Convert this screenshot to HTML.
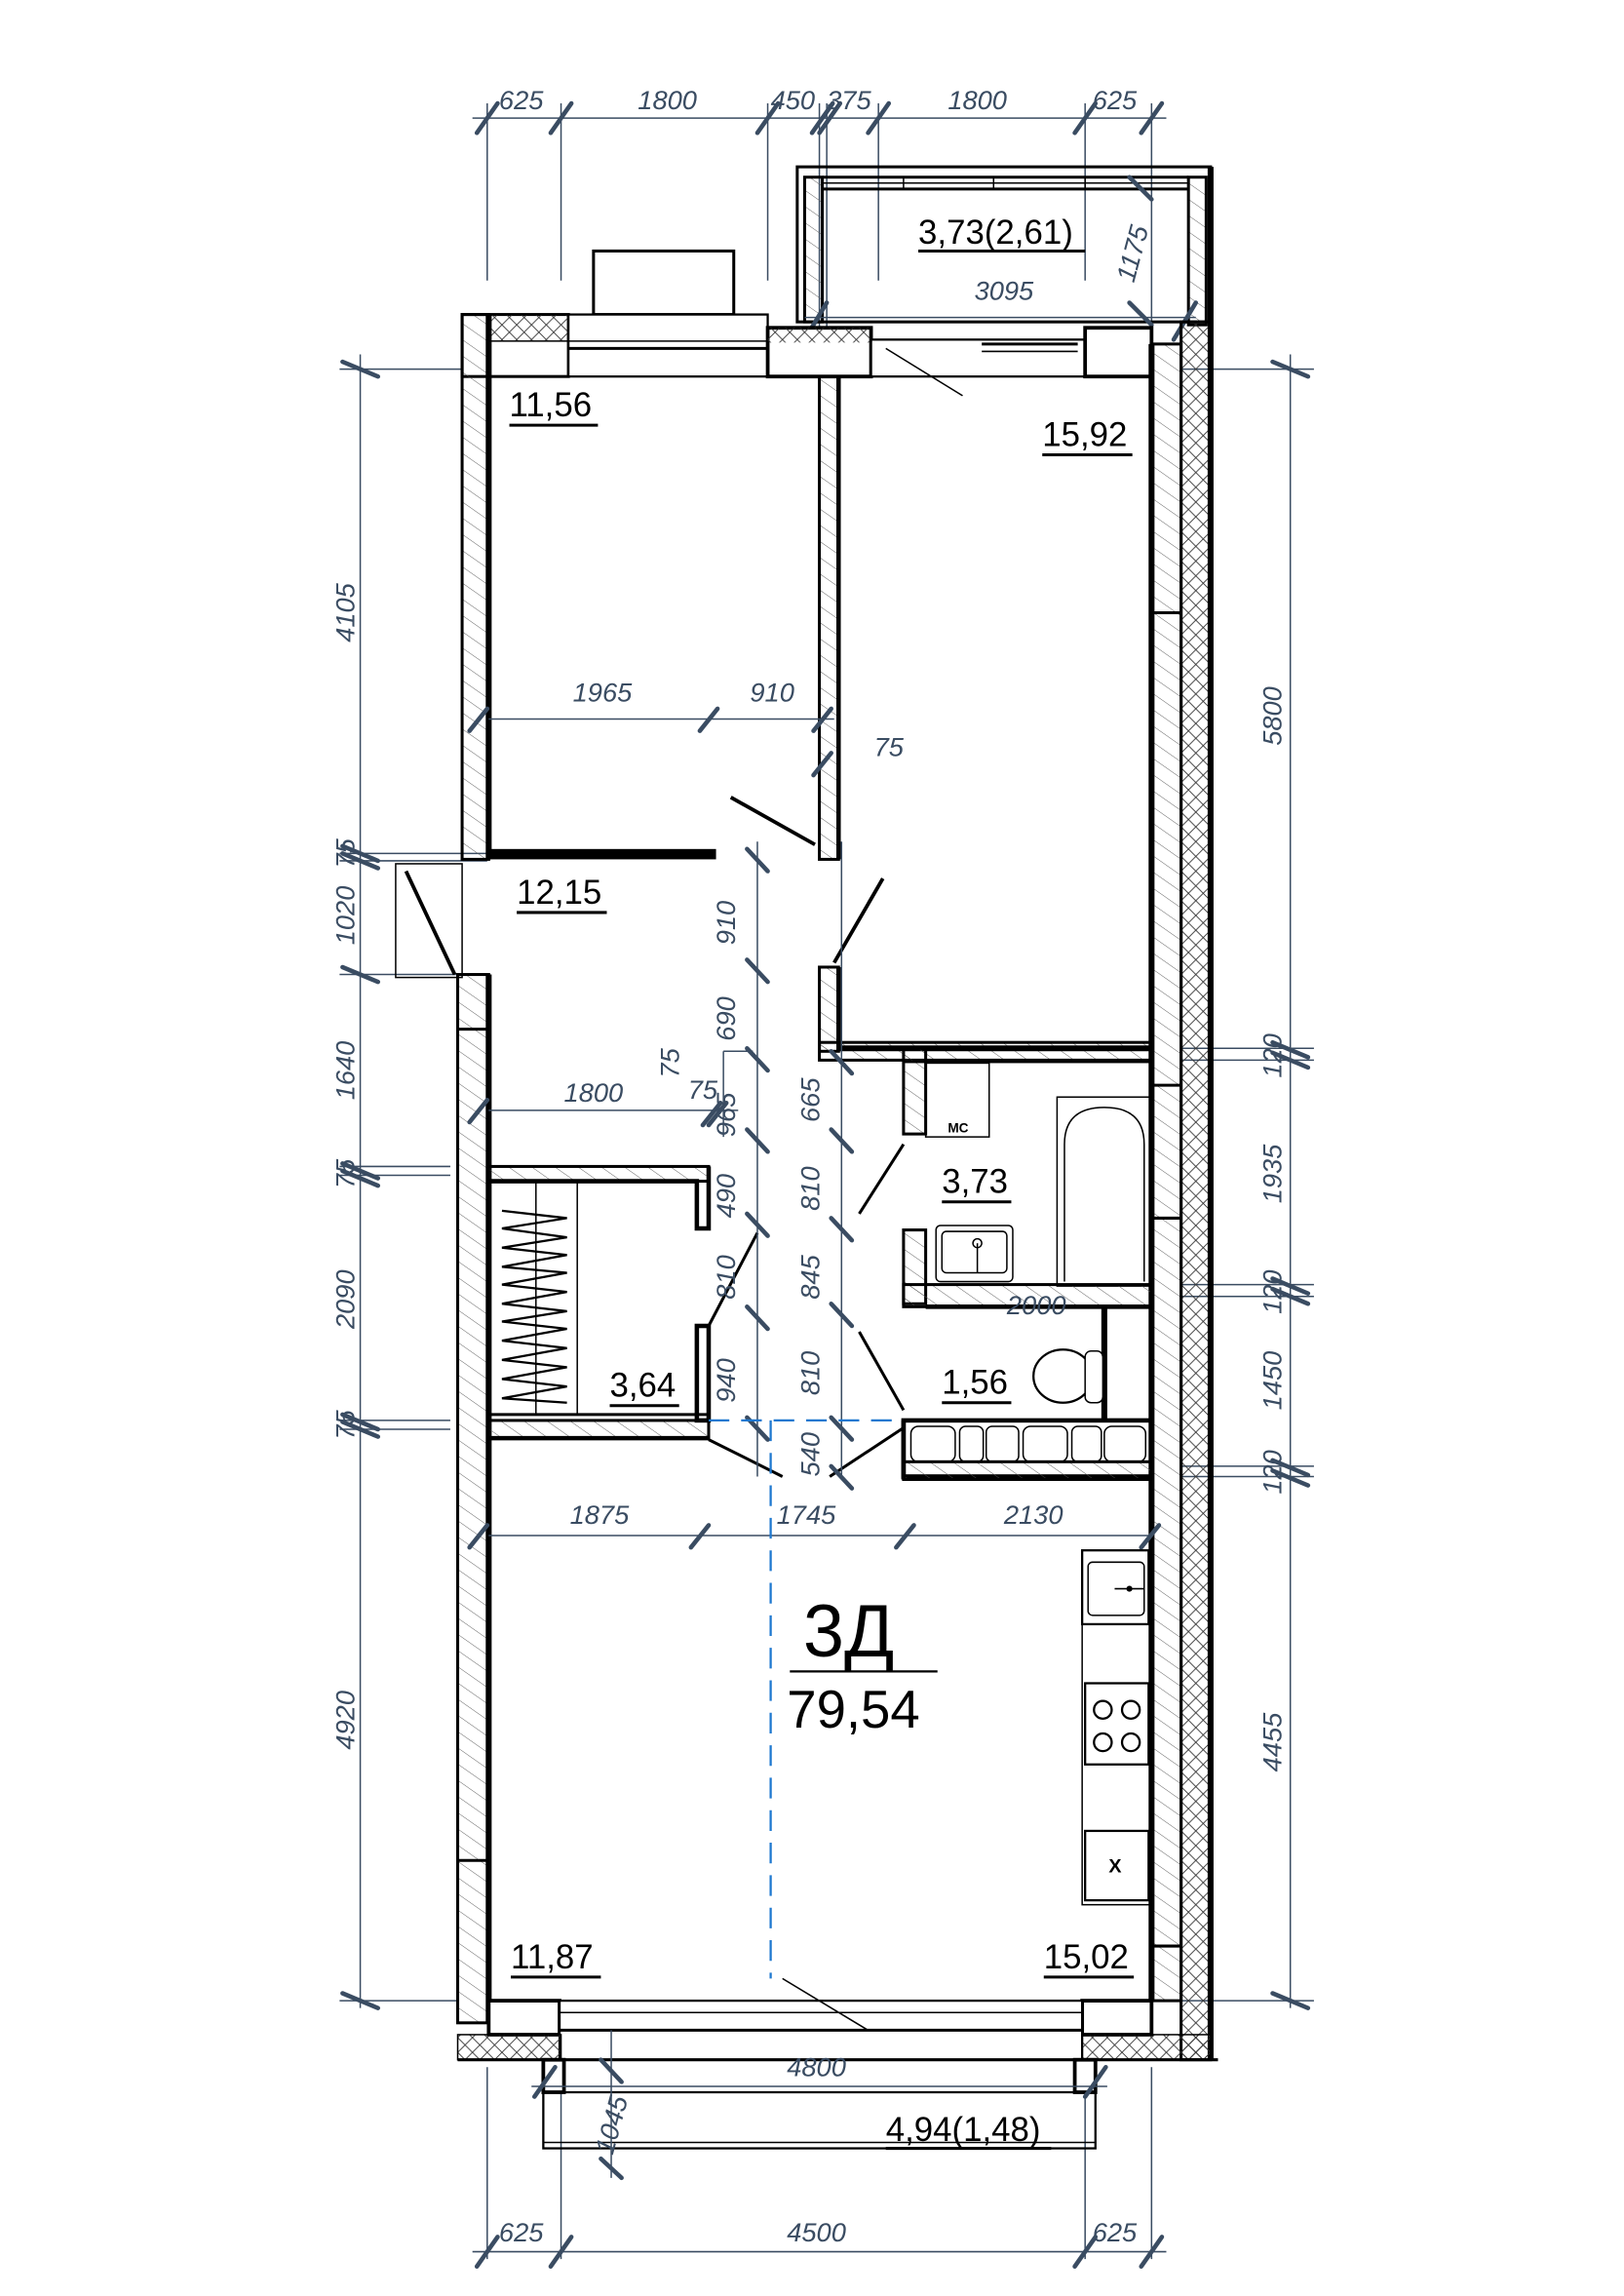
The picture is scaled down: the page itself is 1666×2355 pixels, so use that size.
<!DOCTYPE html>
<html><head><meta charset="utf-8">
<style>
html,body{margin:0;padding:0;background:#fff;}
svg{display:block;}
.d{font-family:"Liberation Sans",sans-serif;font-style:italic;font-size:18px;fill:#3a4c62;}
.a{font-family:"Liberation Sans",sans-serif;font-size:23px;fill:#000;}
.dl{stroke:#3a4c62;stroke-width:1;fill:none;}
.tk{stroke:#3a4c62;stroke-width:3;stroke-linecap:round;}
.w{fill:url(#h);stroke:#000;stroke-width:2;}
.k{stroke:#000;fill:none;}
</style></head>
<body>
<svg width="1666" height="2355" viewBox="0 0 1100 1555" xmlns="http://www.w3.org/2000/svg">
<defs>
<pattern id="h" width="9" height="9" patternUnits="userSpaceOnUse" patternTransform="rotate(-55)">
<line x1="0" y1="0" x2="0" y2="9" stroke="#555" stroke-width="0.6"/>
</pattern>
<pattern id="x" width="10" height="10" patternUnits="userSpaceOnUse">
<path d="M0 0L10 10M10 0L0 10" stroke="#333" stroke-width="0.6"/>
</pattern>
</defs>
<rect width="1100" height="1555" fill="#fff"/>

<!-- top dimensions -->
<line class="dl" x1="320" y1="80" x2="790" y2="80"/>
<g class="dl">
<line x1="330" y1="70" x2="330" y2="190"/><line x1="380" y1="70" x2="380" y2="190"/>
<line x1="520" y1="70" x2="520" y2="190"/><line x1="555" y1="70" x2="555" y2="230"/>
<line x1="560" y1="70" x2="560" y2="230"/><line x1="595" y1="70" x2="595" y2="190"/>
<line x1="735" y1="70" x2="735" y2="190"/><line x1="780" y1="70" x2="780" y2="230"/>
</g>
<g class="tk">
<line x1="323" y1="90" x2="337" y2="70"/><line x1="373" y1="90" x2="387" y2="70"/>
<line x1="513" y1="90" x2="527" y2="70"/><line x1="550" y1="90" x2="564" y2="70"/>
<line x1="555" y1="90" x2="569" y2="70"/><line x1="588" y1="90" x2="602" y2="70"/>
<line x1="728" y1="90" x2="742" y2="70"/><line x1="773" y1="90" x2="787" y2="70"/>
</g>
<text class="d" x="338" y="74">625</text><text class="d" x="432" y="74">1800</text>
<text class="d" x="522" y="74">450</text><text class="d" x="560" y="74">375</text>
<text class="d" x="642" y="74">1800</text><text class="d" x="740" y="74">625</text>

<!-- bottom dimensions -->
<line class="dl" x1="320" y1="1525" x2="790" y2="1525"/>
<g class="dl"><line x1="330" y1="1400" x2="330" y2="1530"/><line x1="380" y1="1400" x2="380" y2="1530"/>
<line x1="735" y1="1400" x2="735" y2="1530"/><line x1="780" y1="1400" x2="780" y2="1530"/></g>
<g class="tk"><line x1="323" y1="1535" x2="337" y2="1515"/><line x1="373" y1="1535" x2="387" y2="1515"/>
<line x1="728" y1="1535" x2="742" y2="1515"/><line x1="773" y1="1535" x2="787" y2="1515"/></g>
<text class="d" x="338" y="1518">625</text><text class="d" x="533" y="1518">4500</text><text class="d" x="740" y="1518">625</text>

<!-- left dims -->
<line class="dl" x1="244" y1="240" x2="244" y2="1360"/>
<g class="dl"><line x1="230" y1="250" x2="320" y2="250"/><line x1="230" y1="578" x2="330" y2="578"/>
<line x1="230" y1="583" x2="330" y2="583"/><line x1="230" y1="660" x2="310" y2="660"/>
<line x1="230" y1="790" x2="305" y2="790"/><line x1="230" y1="796" x2="305" y2="796"/>
<line x1="230" y1="962" x2="305" y2="962"/><line x1="230" y1="968" x2="305" y2="968"/>
<line x1="230" y1="1355" x2="310" y2="1355"/></g>
<g class="tk"><line x1="232" y1="245" x2="256" y2="255"/><line x1="232" y1="573" x2="256" y2="583"/>
<line x1="232" y1="578" x2="256" y2="588"/><line x1="232" y1="655" x2="256" y2="665"/>
<line x1="232" y1="788" x2="256" y2="798"/><line x1="232" y1="793" x2="256" y2="803"/>
<line x1="232" y1="958" x2="256" y2="968"/><line x1="232" y1="963" x2="256" y2="973"/>
<line x1="232" y1="1350" x2="256" y2="1360"/></g>
<g class="d">
<text transform="translate(240,435) rotate(-90)">4105</text>
<text transform="translate(240,588) rotate(-90)">75</text>
<text transform="translate(240,640) rotate(-90)">1020</text>
<text transform="translate(240,745) rotate(-90)">1640</text>
<text transform="translate(240,805) rotate(-90)">75</text>
<text transform="translate(240,900) rotate(-90)">2090</text>
<text transform="translate(240,975) rotate(-90)">75</text>
<text transform="translate(240,1185) rotate(-90)">4920</text>
</g>

<!-- right dims -->
<line class="dl" x1="874" y1="240" x2="874" y2="1360"/>
<g class="dl"><line x1="800" y1="250" x2="890" y2="250"/><line x1="800" y1="710" x2="890" y2="710"/>
<line x1="800" y1="718" x2="890" y2="718"/><line x1="800" y1="870" x2="890" y2="870"/>
<line x1="800" y1="878" x2="890" y2="878"/><line x1="800" y1="993" x2="890" y2="993"/>
<line x1="800" y1="1000" x2="890" y2="1000"/><line x1="800" y1="1355" x2="890" y2="1355"/></g>
<g class="tk"><line x1="862" y1="245" x2="886" y2="255"/><line x1="862" y1="706" x2="886" y2="716"/>
<line x1="862" y1="713" x2="886" y2="723"/><line x1="862" y1="866" x2="886" y2="876"/>
<line x1="862" y1="873" x2="886" y2="883"/><line x1="862" y1="989" x2="886" y2="999"/>
<line x1="862" y1="996" x2="886" y2="1006"/><line x1="862" y1="1350" x2="886" y2="1360"/></g>
<g class="d">
<text transform="translate(868,505) rotate(-90)">5800</text>
<text transform="translate(868,730) rotate(-90)">120</text>
<text transform="translate(868,815) rotate(-90)">1935</text>
<text transform="translate(868,890) rotate(-90)">120</text>
<text transform="translate(868,955) rotate(-90)">1450</text>
<text transform="translate(868,1012) rotate(-90)">120</text>
<text transform="translate(868,1200) rotate(-90)">4455</text>
</g>

<!-- top balcony -->
<rect x="540" y="113" width="280" height="105" fill="none" stroke="#000" stroke-width="2"/>
<rect x="545" y="120" width="12" height="98" class="w"/>
<rect x="805" y="120" width="12" height="100" class="w"/>
<line class="k" x1="557" y1="120" x2="805" y2="120" stroke-width="2"/>
<line class="k" x1="557" y1="124" x2="805" y2="124"/>
<line class="k" x1="557" y1="128" x2="805" y2="128" stroke-width="2"/>
<g class="k"><line x1="612" y1="120" x2="612" y2="128"/><line x1="673" y1="120" x2="673" y2="128"/><line x1="735" y1="120" x2="735" y2="128"/></g>
<text class="a" x="622" y="165">3,73(2,61)</text><line x1="622" y1="170" x2="735" y2="170" stroke="#000" stroke-width="2"/>
<text class="d" x="660" y="203">3095</text>
<text class="d" transform="translate(768,192) rotate(-75)">1175</text>
<line class="dl" x1="545" y1="215" x2="810" y2="215"/>
<g class="tk"><line x1="545" y1="230" x2="560" y2="205"/><line x1="795" y1="230" x2="810" y2="205"/>
<line x1="765" y1="120" x2="780" y2="135"/><line x1="765" y1="205" x2="780" y2="220"/></g>
<rect x="402" y="170" width="95" height="43" fill="#fff" stroke="#000" stroke-width="2"/>

<!-- top wall -->
<rect x="313" y="213" width="72" height="42" fill="#fff" stroke="#000" stroke-width="2"/>
<rect x="331" y="213" width="54" height="18" fill="url(#x)" stroke="#000"/>
<rect x="385" y="213" width="135" height="42" fill="#fff" stroke="#000" stroke-width="1.5"/>
<line class="k" x1="385" y1="231" x2="520" y2="231"/><line class="k" x1="385" y1="236" x2="520" y2="236" stroke-width="2"/>
<rect x="520" y="222" width="70" height="33" fill="#fff" stroke="#000" stroke-width="2.5"/>
<rect x="520" y="222" width="70" height="10" fill="url(#x)"/>
<rect x="590" y="230" width="145" height="25" fill="#fff" stroke="#000" stroke-width="1.5"/>
<line class="k" x1="665" y1="233" x2="730" y2="233" stroke-width="2"/><line class="k" x1="665" y1="238" x2="730" y2="238"/>
<rect x="735" y="222" width="45" height="33" fill="#fff" stroke="#000" stroke-width="2.5"/>
<line class="k" x1="600" y1="236" x2="652" y2="268"/>

<!-- left walls -->
<rect x="313" y="213" width="18" height="369" class="w"/>
<line x1="331" y1="213" x2="331" y2="582" stroke="#000" stroke-width="4"/>
<rect x="310" y="660" width="21" height="710" class="w"/>
<line x1="331" y1="660" x2="331" y2="1370" stroke="#000" stroke-width="4"/>
<line class="k" x1="310" y1="697" x2="331" y2="697" stroke-width="2"/>
<line class="k" x1="310" y1="1260" x2="331" y2="1260" stroke-width="2"/>
<rect x="268" y="585" width="45" height="77" fill="none" stroke="#000"/>
<line class="k" x1="275" y1="590" x2="308" y2="660" stroke-width="2.5"/>

<!-- right wall -->
<rect x="800" y="218" width="20" height="1177" fill="url(#x)" stroke="#000" stroke-width="2"/>
<line x1="820" y1="113" x2="820" y2="1395" stroke="#000" stroke-width="4"/>
<rect x="780" y="233" width="20" height="1122" class="w"/>
<line x1="780" y1="233" x2="780" y2="1355" stroke="#000" stroke-width="4"/>
<g class="k" stroke-width="2"><line x1="780" y1="415" x2="800" y2="415"/><line x1="780" y1="735" x2="800" y2="735"/>
<line x1="780" y1="825" x2="800" y2="825"/><line x1="780" y1="1318" x2="800" y2="1318"/></g>

<!-- bottom wall & balcony -->
<rect x="331" y="1355" width="48" height="23" fill="#fff" stroke="#000" stroke-width="2.5"/>
<rect x="733" y="1355" width="47" height="23" fill="#fff" stroke="#000" stroke-width="2.5"/>
<rect x="379" y="1355" width="354" height="40" fill="#fff" stroke="#000" stroke-width="1.5"/>
<line class="k" x1="379" y1="1363" x2="733" y2="1363"/><line class="k" x1="379" y1="1375" x2="733" y2="1375" stroke-width="2"/>
<line class="k" x1="530" y1="1340" x2="588" y2="1375"/>
<rect x="310" y="1378" width="70" height="17" fill="url(#x)" stroke="#000"/>
<rect x="733" y="1378" width="87" height="17" fill="url(#x)" stroke="#000"/>
<line x1="310" y1="1395" x2="825" y2="1395" stroke="#000" stroke-width="2"/>
<rect x="368" y="1395" width="14" height="22" fill="#fff" stroke="#000" stroke-width="2.5"/>
<rect x="728" y="1395" width="14" height="22" fill="#fff" stroke="#000" stroke-width="2.5"/>
<rect x="368" y="1417" width="374" height="38" fill="none" stroke="#000" stroke-width="1.5"/>
<line class="k" x1="368" y1="1451" x2="742" y2="1451"/>
<text class="a" x="600" y="1450">4,94(1,48)</text><line x1="600" y1="1455" x2="712" y2="1455" stroke="#000" stroke-width="2"/>
<line class="dl" x1="360" y1="1413" x2="750" y2="1413"/>
<text class="d" x="533" y="1406">4800</text>
<line class="dl" x1="414" y1="1375" x2="414" y2="1475"/>
<text class="d" transform="translate(415,1460) rotate(-75)">1045</text>
<g class="tk"><line x1="362" y1="1420" x2="376" y2="1400"/><line x1="735" y1="1420" x2="749" y2="1400"/>
<line x1="407" y1="1395" x2="421" y2="1410"/><line x1="407" y1="1462" x2="421" y2="1475"/></g>

<!-- partition bedrooms -->
<rect x="555" y="255" width="13" height="327" class="w"/>
<line x1="568" y1="255" x2="568" y2="582" stroke="#000" stroke-width="3"/>
<rect x="331" y="575" width="154" height="7" fill="#000"/>
<line class="k" x1="495" y1="540" x2="552" y2="572" stroke-width="2.5"/>
<line class="k" x1="598" y1="595" x2="565" y2="652" stroke-width="2.5"/>
<rect x="555" y="655" width="13" height="57" class="w"/>
<line x1="568" y1="655" x2="568" y2="712" stroke="#000" stroke-width="3"/>
<rect x="555" y="706" width="225" height="12" class="w"/>
<line x1="568" y1="710" x2="780" y2="710" stroke="#000" stroke-width="4"/>

<!-- bathroom -->
<rect x="612" y="710" width="15" height="58" class="w"/>
<rect x="612" y="718" width="168" height="2" fill="#000"/>
<rect x="627" y="720" width="43" height="50" fill="none" stroke="#000"/>
<text x="642" y="767" font-family="Liberation Sans" font-size="9" font-weight="bold">МС</text>
<rect x="716" y="743" width="63" height="128" fill="none" stroke="#000"/>
<path d="M721 868 V775 Q721 750 748 750 Q775 750 775 775 V868" fill="none" stroke="#000"/>
<rect x="612" y="833" width="15" height="50" class="w"/>
<rect x="634" y="830" width="52" height="38" rx="3" fill="none" stroke="#000"/>
<rect x="638" y="834" width="44" height="28" rx="3" fill="none" stroke="#000"/>
<line class="k" x1="662" y1="842" x2="662" y2="862"/><circle cx="662" cy="842" r="3" fill="none" stroke="#000"/>
<text class="a" x="638" y="808">3,73</text><line x1="638" y1="814" x2="685" y2="814" stroke="#000" stroke-width="2"/>
<rect x="612" y="870" width="168" height="15" class="w"/>
<line x1="627" y1="885" x2="780" y2="885" stroke="#000" stroke-width="3"/>
<text class="d" x="682" y="890">2000</text>
<rect x="746" y="885" width="4" height="78" fill="#000"/>
<ellipse cx="720" cy="932" rx="20" ry="18" fill="none" stroke="#000" stroke-width="1.5"/>
<rect x="735" y="915" width="12" height="35" rx="4" fill="#fff" stroke="#000"/>
<text class="a" x="638" y="944">1,56</text><line x1="638" y1="950" x2="685" y2="950" stroke="#000" stroke-width="2"/>
<rect x="612" y="962" width="168" height="38" fill="none" stroke="#000" stroke-width="3"/>
<rect x="612" y="990" width="168" height="12" class="w"/>
<line x1="612" y1="962" x2="612" y2="1002" stroke="#000" stroke-width="3"/>
<g fill="none" stroke="#000"><rect x="617" y="966" width="30" height="24" rx="5"/><rect x="650" y="966" width="16" height="24" rx="4"/>
<rect x="668" y="966" width="22" height="24" rx="4"/><rect x="693" y="966" width="30" height="24" rx="5"/>
<rect x="726" y="966" width="20" height="24" rx="4"/><rect x="748" y="966" width="28" height="24" rx="5"/></g>
<line class="k" x1="612" y1="775" x2="582" y2="822" stroke-width="2"/>
<line class="k" x1="582" y1="902" x2="612" y2="955" stroke-width="2"/>
<line class="k" x1="612" y1="967" x2="562" y2="1000" stroke-width="2"/>

<!-- closet -->
<rect x="331" y="790" width="149" height="10" class="w"/>
<path d="M331 800 H472 V832 H480 V790" fill="none" stroke="#000" stroke-width="3"/>
<rect x="472" y="898" width="8" height="64" fill="none" stroke="#000" stroke-width="3"/>
<rect x="331" y="962" width="149" height="12" class="w"/>
<line x1="331" y1="974" x2="480" y2="974" stroke="#000" stroke-width="3"/>
<line class="k" x1="331" y1="958" x2="480" y2="958" stroke-width="2"/>
<line class="k" x1="363" y1="800" x2="363" y2="958"/><line class="k" x1="391" y1="800" x2="391" y2="958"/>
<path d="M340 820 L384 825 L340 832 L384 838 L340 845 L384 850 L340 858 L384 862 L340 870 L384 875 L340 883 L384 888 L340 895 L384 900 L340 908 L384 913 L340 921 L384 926 L340 934 L384 939 L340 947 L384 950" fill="none" stroke="#000" stroke-width="1.5"/>
<text class="a" x="413" y="946">3,64</text><line x1="413" y1="952" x2="460" y2="952" stroke="#000" stroke-width="2"/>
<line class="k" x1="480" y1="898" x2="513" y2="835" stroke-width="2"/>
<line class="k" x1="480" y1="975" x2="530" y2="1000" stroke-width="2"/>

<!-- corridor dims -->
<line class="dl" x1="513" y1="570" x2="513" y2="1000"/>
<line class="dl" x1="570" y1="570" x2="570" y2="1000"/>
<line class="dl" x1="331" y1="487" x2="565" y2="487"/>
<line class="dl" x1="331" y1="752" x2="500" y2="752"/>
<line class="dl" x1="331" y1="1040" x2="780" y2="1040"/>
<line class="dl" x1="490" y1="712" x2="490" y2="770"/><line class="dl" x1="490" y1="712" x2="510" y2="712"/>
<g class="tk">
<line x1="318" y1="495" x2="330" y2="480"/><line x1="474" y1="495" x2="486" y2="480"/><line x1="551" y1="495" x2="563" y2="480"/>
<line x1="551" y1="525" x2="563" y2="510"/>
<line x1="318" y1="760" x2="330" y2="745"/><line x1="476" y1="762" x2="488" y2="747"/><line x1="480" y1="762" x2="492" y2="747"/>
<line x1="506" y1="575" x2="520" y2="590"/><line x1="506" y1="650" x2="520" y2="665"/><line x1="506" y1="710" x2="520" y2="725"/>
<line x1="506" y1="765" x2="520" y2="780"/><line x1="506" y1="822" x2="520" y2="837"/><line x1="506" y1="885" x2="520" y2="900"/><line x1="506" y1="960" x2="520" y2="975"/>
<line x1="563" y1="712" x2="577" y2="727"/><line x1="563" y1="765" x2="577" y2="780"/><line x1="563" y1="825" x2="577" y2="840"/>
<line x1="563" y1="883" x2="577" y2="898"/><line x1="563" y1="960" x2="577" y2="975"/><line x1="563" y1="993" x2="577" y2="1008"/>
<line x1="318" y1="1048" x2="330" y2="1033"/><line x1="468" y1="1048" x2="480" y2="1033"/><line x1="607" y1="1048" x2="619" y2="1033"/><line x1="773" y1="1048" x2="785" y2="1033"/>
</g>
<text class="d" x="388" y="475">1965</text><text class="d" x="508" y="475">910</text><text class="d" x="592" y="512">75</text>
<text class="d" x="382" y="746">1800</text><text class="d" x="466" y="744">75</text>
<text class="d" transform="translate(460,730) rotate(-90)">75</text>
<g class="d">
<text transform="translate(498,640) rotate(-90)">910</text>
<text transform="translate(498,705) rotate(-90)">690</text>
<text transform="translate(498,770) rotate(-90)">965</text>
<text transform="translate(498,825) rotate(-90)">490</text>
<text transform="translate(498,880) rotate(-90)">810</text>
<text transform="translate(498,950) rotate(-90)">940</text>
<text transform="translate(555,760) rotate(-90)">665</text>
<text transform="translate(555,820) rotate(-90)">810</text>
<text transform="translate(555,880) rotate(-90)">845</text>
<text transform="translate(555,945) rotate(-90)">810</text>
<text transform="translate(555,1000) rotate(-90)">540</text>
</g>
<text class="d" x="386" y="1032">1875</text><text class="d" x="526" y="1032">1745</text><text class="d" x="680" y="1032">2130</text>

<!-- dashed blue -->
<line x1="480" y1="962" x2="612" y2="962" stroke="#1e78d0" stroke-width="1.5" stroke-dasharray="14,8"/>
<line x1="522" y1="962" x2="522" y2="1340" stroke="#1e78d0" stroke-width="1.5" stroke-dasharray="14,8"/>

<!-- kitchen -->
<rect x="733" y="1050" width="47" height="240" fill="none" stroke="#000"/>
<rect x="733" y="1050" width="45" height="50" fill="none" stroke="#000" stroke-width="1.5"/>
<rect x="737" y="1058" width="38" height="36" rx="3" fill="none" stroke="#000"/>
<circle cx="765" cy="1076" r="2" fill="#000"/><line class="k" x1="755" y1="1076" x2="775" y2="1076"/>
<rect x="735" y="1140" width="43" height="55" fill="none" stroke="#000" stroke-width="1.5"/>
<g fill="none" stroke="#000" stroke-width="1.5"><circle cx="747" cy="1158" r="6"/><circle cx="766" cy="1158" r="6"/>
<circle cx="747" cy="1180" r="6"/><circle cx="766" cy="1180" r="6"/></g>
<rect x="735" y="1240" width="43" height="47" fill="none" stroke="#000" stroke-width="1.5"/>
<text x="751" y="1268" font-family="Liberation Sans" font-size="13" font-weight="bold">X</text>

<!-- room labels -->
<text class="a" x="345" y="282">11,56</text><line x1="345" y1="288" x2="405" y2="288" stroke="#000" stroke-width="2"/>
<text class="a" x="706" y="302">15,92</text><line x1="706" y1="308" x2="767" y2="308" stroke="#000" stroke-width="2"/>
<text class="a" x="350" y="612">12,15</text><line x1="350" y1="618" x2="411" y2="618" stroke="#000" stroke-width="2"/>
<text class="a" x="346" y="1333">11,87</text><line x1="346" y1="1339" x2="407" y2="1339" stroke="#000" stroke-width="2"/>
<text class="a" x="707" y="1333">15,02</text><line x1="707" y1="1339" x2="768" y2="1339" stroke="#000" stroke-width="2"/>
<text x="544" y="1122" font-family="Liberation Sans" font-size="50" fill="#000">3Д</text>
<line x1="535" y1="1132" x2="635" y2="1132" stroke="#000" stroke-width="1.5"/>
<text x="533" y="1170" font-family="Liberation Sans" font-size="36" fill="#000">79,54</text>
</svg>
</body></html>
